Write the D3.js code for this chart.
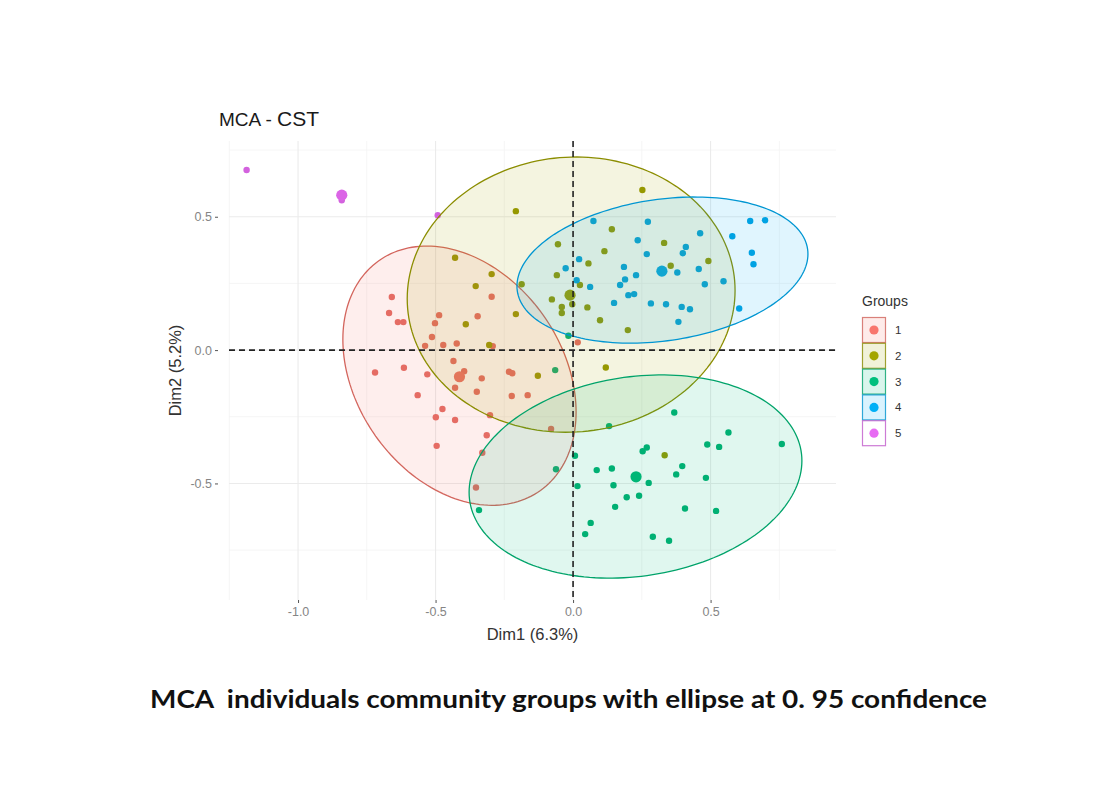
<!DOCTYPE html>
<html lang="en">
<head>
    <meta charset="utf-8">
    <title>MCA - CST</title>
    <script src="https://d3js.org/d3.v7.min.js"></script>
    <style>
        body {
            margin: 0;
            background: white;
        }

        text {
            font-family: "Liberation Sans", Arial, sans-serif;
        }

        .tick text {
            fill: #858585;
            font-size: 12.5px;
        }

        .tick line {
            stroke: #555;
        }

        text.caption {
            font-family: Lato, "Open Sans", sans-serif;
            font-weight: bold;
            white-space: pre;
        }
    </style>
</head>
<body>
<svg id="chart" width="1100" height="800"></svg>
<script type="text/javascript">
    // individuals (Dim1, Dim2)
    const group1X = [-0.296, -0.659, -0.669, -0.637, -0.617, -0.487, -0.502, -0.347, -0.513, -0.538, -0.472, -0.423,
        -0.292, 0.017, -0.720, -0.615, -0.530, -0.435, -0.396, -0.332, -0.429, -0.350, -0.233, -0.221, -0.223, -0.165,
        -0.565, -0.475, -0.499, -0.429, -0.302, -0.080, -0.314, -0.496, -0.330, -0.353];
    const group1Y = [0.200, 0.199, 0.139, 0.105, 0.105, 0.131, 0.101, 0.127, 0.049, 0.016, 0.019, 0.025,
        0.015, 0.029, -0.084, -0.066, -0.091, -0.041, -0.079, -0.106, -0.141, -0.156, -0.081, -0.087, -0.172, -0.169,
        -0.169, -0.221, -0.252, -0.262, -0.244, -0.296, -0.319, -0.359, -0.385, -0.515];

    const group2X = [-0.208, -0.055, -0.059, -0.429, -0.296, -0.354, -0.390, -0.208, -0.187, -0.077, -0.041, -0.041,
        -0.305, -0.128, 0.119, 0.333, 0.252, 0.141, 0.114, 0.331, 0.492, 0.056, 0.355, 0.025, -0.003, 0.052, 0.098, 0.199];
    const group2Y = [0.521, 0.397, 0.281, 0.346, 0.285, 0.240, 0.097, 0.135, 0.247, 0.190, 0.162, 0.139,
        0.019, -0.096, -0.065, -0.394, 0.600, 0.453, 0.371, 0.402, 0.334, 0.325, 0.316, 0.244, 0.172, 0.160, 0.112, 0.075];

    const group3X = [-0.017, -0.065, 0.007, -0.062, 0.086, 0.016, -0.342, 0.064, 0.131, 0.368, 0.565, 0.759, 0.488,
        0.531, 0.253, 0.268, 0.397, 0.375, 0.483, 0.141, 0.275, 0.147, 0.195, 0.240, 0.153, 0.407, 0.520, 0.044, 0.290, 0.349];
    const group3Y = [0.054, -0.075, -0.396, -0.447, -0.450, -0.510, -0.600, -0.648, -0.285, -0.234, -0.309, -0.352, -0.354,
        -0.363, -0.379, -0.365, -0.435, -0.466, -0.479, -0.444, -0.498, -0.507, -0.552, -0.546, -0.588, -0.594, -0.603,
        -0.690, -0.700, -0.715];

    const group4X = [-0.027, 0.074, 0.272, 0.644, 0.698, 0.462, 0.579, 0.235, 0.268, 0.410, 0.399, 0.650, 0.656, 0.022,
        0.185, 0.379, 0.457, 0.229, 0.189, 0.171, 0.062, 0.013, 0.479, 0.547, 0.201, 0.222, 0.149, 0.283, 0.338, 0.395,
        0.425, 0.604, 0.383];
    const group4Y = [0.307, 0.484, 0.481, 0.484, 0.487, 0.438, 0.427, 0.412, 0.360, 0.387, 0.363, 0.365, 0.322, 0.341,
        0.312, 0.291, 0.304, 0.281, 0.265, 0.244, 0.237, 0.262, 0.247, 0.258, 0.206, 0.210, 0.177, 0.175, 0.172, 0.162,
        0.153, 0.156, 0.106];

    const group5X = [-1.187, -0.841, -0.492];
    const group5Y = [0.675, 0.562, 0.506];

    const groupNames = ['1', '2', '3', '4', '5'];
    const groupColors = ['#F8766D', '#A3A500', '#00BF7D', '#00B0F6', '#E76BF3'];

    // group mean points
    const centroidX = [-0.413, -0.011, 0.229, 0.323, -0.841];
    const centroidY = [-0.100, 0.206, -0.475, 0.296, 0.581];

    // 0.95 confidence ellipses: centre, half extent on each axis, correlation (group 5 has none)
    const ellipseGroup = ['1', '2', '3', '4'];
    const ellipseCX = [-0.413, -0.007, 0.227, 0.325];
    const ellipseCY = [-0.096, 0.208, -0.474, 0.300];
    const ellipseSX = [0.424, 0.596, 0.605, 0.529];
    const ellipseSY = [0.486, 0.516, 0.381, 0.274];
    const ellipseR = [-0.28, 0.03, 0.155, 0.22];

    const xMajor = [-1.0, -0.5, 0.0, 0.5];
    const xMinor = [-1.25, -0.75, -0.25, 0.25, 0.75];
    const yMajor = [-0.5, 0.0, 0.5];
    const yMinor = [-0.75, -0.25, 0.25, 0.75];

    const width = 1100;
    const height = 800;
    const panel = {left: 229, right: 836, top: 141, bottom: 600};

    const x = d3.scaleLinear().domain([-1.251, 0.956]).range([panel.left, panel.right]);
    const y = d3.scaleLinear().domain([-0.937, 0.784]).range([panel.bottom, panel.top]);
    const color = d3.scaleOrdinal().domain(groupNames).range(groupColors);
    const tickFormat = d => d.toFixed(1);

    const svg = d3.select('#chart');

    svg.append('rect').attr('width', width).attr('height', height).attr('fill', 'white');

    // grid
    const grid = svg.append('g');
    grid.selectAll('.vminor').data(xMinor).join('line')
        .attr('x1', d => x(d)).attr('x2', d => x(d))
        .attr('y1', panel.top).attr('y2', panel.bottom)
        .attr('stroke', '#f3f3f3').attr('stroke-width', 0.8);
    grid.selectAll('.hminor').data(yMinor).join('line')
        .attr('y1', d => y(d)).attr('y2', d => y(d))
        .attr('x1', panel.left).attr('x2', panel.right)
        .attr('stroke', '#f3f3f3').attr('stroke-width', 0.8);
    grid.selectAll('.vmajor').data(xMajor).join('line')
        .attr('x1', d => x(d)).attr('x2', d => x(d))
        .attr('y1', panel.top).attr('y2', panel.bottom)
        .attr('stroke', '#ebebeb').attr('stroke-width', 1.1);
    grid.selectAll('.hmajor').data(yMajor).join('line')
        .attr('y1', d => y(d)).attr('y2', d => y(d))
        .attr('x1', panel.left).attr('x2', panel.right)
        .attr('stroke', '#ebebeb').attr('stroke-width', 1.1);

    // axes
    const xAxis = svg.append('g')
        .attr('transform', 'translate(0,' + panel.bottom + ')')
        .call(d3.axisBottom(x).tickValues(xMajor).tickFormat(tickFormat).tickSize(3).tickPadding(4));
    xAxis.select('.domain').remove();

    const yAxis = svg.append('g')
        .attr('transform', 'translate(' + (panel.left - 11) + ',0)')
        .call(d3.axisLeft(y).tickValues(yMajor).tickFormat(tickFormat).tickSize(3).tickPadding(3));
    yAxis.select('.domain').remove();

    // points
    const groupsX = [group1X, group2X, group3X, group4X, group5X];
    const groupsY = [group1Y, group2Y, group3Y, group4Y, group5Y];
    const points = [];
    groupNames.forEach((g, gi) => {
        groupsX[gi].forEach((v, i) => points.push({group: g, x: v, y: groupsY[gi][i]}));
    });

    svg.append('g').selectAll('circle')
        .data(points)
        .join('circle')
        .attr('cx', d => x(d.x))
        .attr('cy', d => y(d.y))
        .attr('r', 3.2)
        .attr('fill', d => d3.color(color(d.group)).darker(0.25));

    svg.append('g').selectAll('circle')
        .data(groupNames)
        .join('circle')
        .attr('cx', (d, i) => x(centroidX[i]))
        .attr('cy', (d, i) => y(centroidY[i]))
        .attr('r', 5.6)
        .attr('fill', d => d3.color(color(d)).darker(0.15));

    // ellipses, drawn over the points like ggplot does
    const steps = d3.range(0, 2 * Math.PI, Math.PI / 90);
    const ellipses = ellipseGroup.map((g, i) => {
        const r = ellipseR[i];
        return {
            group: g,
            path: steps.map(t => [
                x(ellipseCX[i] + ellipseSX[i] * Math.cos(t)),
                y(ellipseCY[i] + ellipseSY[i] * (r * Math.cos(t) + Math.sqrt(1 - r * r) * Math.sin(t)))
            ])
        };
    });

    svg.append('g').selectAll('path')
        .data(ellipses)
        .join('path')
        .attr('d', d => d3.line().curve(d3.curveLinearClosed)(d.path))
        .attr('fill', d => color(d.group))
        .attr('fill-opacity', 0.12)
        .attr('stroke', d => d3.color(color(d.group)).darker(0.45))
        .attr('stroke-width', 1.3);

    // reference lines at zero
    svg.append('line')
        .attr('x1', x(0)).attr('x2', x(0))
        .attr('y1', panel.top).attr('y2', panel.bottom)
        .attr('stroke', '#222').attr('stroke-width', 1.6).attr('stroke-dasharray', '6,4');
    svg.append('line')
        .attr('y1', y(0)).attr('y2', y(0))
        .attr('x1', panel.left).attr('x2', panel.right)
        .attr('stroke', '#222').attr('stroke-width', 1.6).attr('stroke-dasharray', '6,4');

    // titles
    const title = svg.append('text')
        .attr('x', 219).attr('y', 126)
        .attr('fill', '#1a1a1a');
    title.append('tspan').attr('font-size', '19px').text('MCA - ');
    title.append('tspan').attr('font-size', '21px').text('CST');

    svg.append('text')
        .attr('x', (panel.left + panel.right) / 2)
        .attr('y', 640)
        .attr('text-anchor', 'middle')
        .attr('font-size', '16.5px')
        .attr('fill', '#333')
        .text('Dim1 (6.3%)');

    svg.append('text')
        .attr('transform', 'translate(181,' + ((panel.top + panel.bottom) / 2) + ') rotate(-90)')
        .attr('text-anchor', 'middle')
        .attr('font-size', '16.5px')
        .attr('fill', '#333')
        .text('Dim2 (5.2%)');

    // legend
    const legend = svg.append('g').attr('transform', 'translate(862,0)');
    legend.append('text')
        .attr('x', 0).attr('y', 306)
        .attr('font-size', '14px')
        .attr('fill', '#333')
        .text('Groups');

    const keys = legend.selectAll('g.key')
        .data(groupNames)
        .join('g')
        .attr('class', 'key')
        .attr('transform', (d, i) => 'translate(0,' + (317 + i * 25.8) + ')');
    keys.append('rect')
        .attr('x', 0.5).attr('y', 0.5)
        .attr('width', 23).attr('height', 25)
        .attr('fill', d => d === '5' ? 'white' : color(d))
        .attr('fill-opacity', 0.15)
        .attr('stroke', d => d3.color(color(d)).darker(0.5))
        .attr('stroke-opacity', 0.8)
        .attr('stroke-width', 1.2);
    keys.append('circle')
        .attr('cx', 12).attr('cy', 13)
        .attr('r', 4.6)
        .attr('fill', d => color(d));
    keys.append('text')
        .attr('x', 33).attr('y', 17)
        .attr('font-size', '11.5px')
        .attr('fill', '#333')
        .text(d => d);

    // caption under the figure
    svg.append('text')
        .attr('class', 'caption')
        .attr('x', 150).attr('y', 708)
        .attr('font-size', '25px')
        .attr('fill', '#111')
        .attr('textLength', 837)
        .attr('lengthAdjust', 'spacingAndGlyphs')
        .text('MCA  individuals community groups with ellipse at 0. 95 confidence');
</script>
</body>
</html>
